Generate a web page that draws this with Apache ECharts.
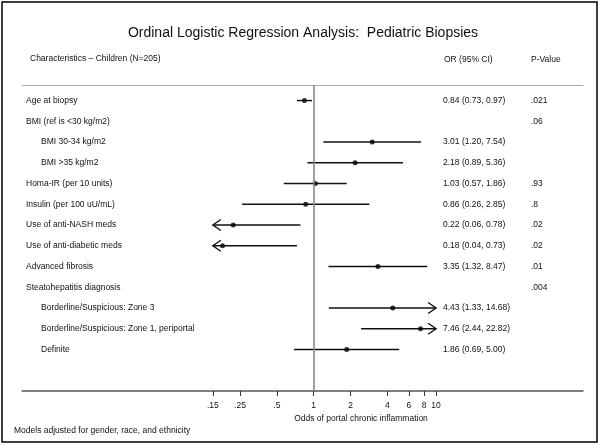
<!DOCTYPE html>
<html><head><meta charset="utf-8">
<script src="https://cdn.jsdelivr.net/npm/echarts@6/dist/echarts.min.js"></script>
<style>html,body{margin:0;padding:0;background:#fff}#c{width:600px;height:445px}</style>
</head><body><div id="c"></div>
<script>
// ---- data ----
const labels = ['Age at biopsy','BMI (ref is <30 kg/m2)','BMI 30-34 kg/m2','BMI >35 kg/m2','Homa-IR (per 10 units)','Insulin (per 100 uU/mL)','Use of anti-NASH meds','Use of anti-diabetic meds','Advanced fibrosis','Steatohepatitis diagnosis','Borderline/Suspicious: Zone 3','Borderline/Suspicious: Zone 1, periportal','Definite'];
const indent = [0,0,1,1,0,0,0,0,0,0,1,1,1];
const orValues = [0.84,null,3.01,2.18,1.03,0.86,0.22,0.18,3.35,null,4.43,7.46,1.86];
const ciLow = [0.73,null,1.20,0.89,0.57,0.26,0.06,0.04,1.32,null,1.33,2.44,0.69];
const ciHigh = [0.97,null,7.54,5.36,1.86,2.85,0.78,0.73,8.47,null,14.68,22.82,5.00];
const pValues = ['.021','.06','','','.93','.8','.02','.02','.01','.004','','',''];
const tickValues = [0.15,0.25,0.5,1,2,4,6,8,10];
const tickLabels = ['.15','.25','.5','1','2','4','6','8','10'];
const clipRange = [0.15, 10];

// ---- build ----
const FONT = '"Liberation Sans", Arial, sans-serif';
const FS = 8.5;
const ciData = [], ptData = [];
orValues.forEach((v, i) => {
  if (v != null) { ciData.push([ciLow[i], ciHigh[i], i + 1]); ptData.push([v, i + 1]); }
});
const textData = labels.map((l, i) => [1, i + 1, i]);
const fmtOR = i => orValues[i] == null ? '' :
  orValues[i].toFixed(2) + ' (' + ciLow[i].toFixed(2) + ', ' + ciHigh[i].toFixed(2) + ')';

const chart = echarts.init(document.getElementById('c'), null, {renderer: 'canvas'});
const xMin = 0.00414, xMax = 158.6;
const txt = (text, x, y, size, align) => ({
  type: 'text', x: 0, y: 0, silent: true,
  style: {text, x, y, fill: '#111', font: size + 'px ' + FONT, align: align || 'left', verticalAlign: 'middle'}
});

chart.setOption({
  animation: false,
  backgroundColor: '#fff',
  grid: {left: 22, right: 17, top: 85, bottom: 54},
  xAxis: [{
    type: 'log', min: xMin, max: xMax, position: 'bottom',
    axisLine: {lineStyle: {color: '#555', width: 1.5}},
    axisTick: {show: true, customValues: tickValues, length: 5, lineStyle: {color: '#333', width: 1}},
    axisLabel: {customValues: tickValues, margin: 10, fontSize: FS, fontFamily: FONT, color: '#111',
      formatter: v => { const k = tickValues.findIndex(t => Math.abs(t - v) < 1e-6); return k >= 0 ? tickLabels[k] : ''; }},
    splitLine: {show: false}, minorTick: {show: false}
  }, {
    type: 'log', min: xMin, max: xMax, position: 'top',
    axisLine: {lineStyle: {color: '#aaa', width: 1}},
    axisTick: {show: false}, axisLabel: {show: false}, splitLine: {show: false}
  }],
  yAxis: {type: 'value', min: 0.25, max: 15, inverse: true, show: false},
  series: [{
    type: 'custom', data: ciData, encode: {x: [0, 1], y: 2}, silent: true,
    renderItem: (params, api) => {
      const lo = api.value(0), hi = api.value(1), row = api.value(2);
      const a = Math.max(lo, clipRange[0]), b = Math.min(hi, clipRange[1]);
      const p1 = api.coord([a, row]), p2 = api.coord([b, row]);
      const st = {stroke: '#111', lineWidth: 1.4, fill: null};
      const ch = [{type: 'line', shape: {x1: p1[0], y1: p1[1], x2: p2[0], y2: p2[1]}, style: st}];
      if (lo < clipRange[0]) ch.push({type: 'polyline', shape: {points: [[p1[0] + 8, p1[1] - 5.5], [p1[0], p1[1]], [p1[0] + 8, p1[1] + 5.5]]}, style: st});
      if (hi > clipRange[1]) ch.push({type: 'polyline', shape: {points: [[p2[0] - 8, p2[1] - 5.5], [p2[0], p2[1]], [p2[0] - 8, p2[1] + 5.5]]}, style: st});
      return {type: 'group', children: ch};
    }
  }, {
    type: 'scatter', data: ptData, symbol: 'circle', symbolSize: 5, silent: true,
    itemStyle: {color: '#000'},
    markLine: {silent: true, symbol: 'none', label: {show: false},
      lineStyle: {color: '#888', width: 1.6, type: 'solid'}, data: [{xAxis: 1}]}
  }, {
    type: 'custom', data: textData, encode: {x: 0, y: 1}, silent: true,
    renderItem: (params, api) => {
      const i = api.value(2);
      const y = api.coord([1, api.value(1)])[1];
      return {type: 'group', children: [
        txt(labels[i], indent[i] ? 41 : 26, y, FS),
        txt(fmtOR(i), 443, y, FS),
        txt(pValues[i], 531, y, FS)
      ]};
    }
  }],
  graphic: [
    {type: 'rect', shape: {x: 2, y: 2, width: 595, height: 440}, style: {fill: null, stroke: '#000', lineWidth: 1.5}, silent: true},
    txt('Ordinal Logistic Regression Analysis:  Pediatric Biopsies', 303, 33, 14, 'center'),
    txt('Characteristics \u2013 Children (N=205)', 30, 58.5, FS),
    txt('OR (95% CI)', 444, 60, FS),
    txt('P-Value', 531, 60, FS),
    txt('Odds of portal chronic inflammation', 361, 419, FS, 'center'),
    txt('Models adjusted for gender, race, and ethnicity', 14, 431, FS)
  ]
});
</script>
</body></html>
